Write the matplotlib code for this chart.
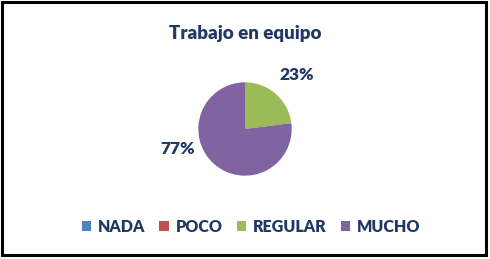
import matplotlib.pyplot as plt
import numpy as np
from matplotlib.patches import Rectangle, Patch

# data
categories = ["NADA", "POCO", "REGULAR", "MUCHO"]
values = [0, 0, 23, 77]
colors = ["#4F81BD", "#C0504D", "#9BBB59", "#8064A2"]
text_color = "#1F3864"

plt.rcParams['font.family'] = ['Lato', 'DejaVu Sans']

fig = plt.figure(figsize=(4.9, 2.59), dpi=100)

# frame around the chart
fig.patches.append(Rectangle((2 / 490, 4 / 259), 484 / 490, 253 / 259,
                             transform=fig.transFigure, fill=False,
                             edgecolor="black", linewidth=2.2))

# title
fig.text(0.5, 1 - 33 / 259, "Trabajo en equipo", ha="center", va="center",
         fontsize=13.5, fontweight="heavy", color=text_color)

# pie
ax = fig.add_axes([(245 - 49) / 490, 1 - (129 + 49) / 259, 98 / 490, 98 / 259])
wedges, _ = ax.pie(values, colors=colors, startangle=90, counterclock=False,
                   wedgeprops=dict(linewidth=0))
ax.set_xlim(-1.05, 1.05)
ax.set_ylim(-1.05, 1.05)
ax.set_aspect("equal")

# percentage labels
total = sum(values)
angles = {2: 46, 3: 197}
dists = {2: 1.6, 3: 1.5}
for i, v in enumerate(values):
    if v == 0:
        continue
    a = np.deg2rad(angles[i])
    ax.text(dists[i] * np.cos(a), dists[i] * np.sin(a), f"{round(100 * v / total)}%",
            ha="center", va="center", fontsize=12.5, fontweight="heavy",
            color=text_color, clip_on=False)

# legend
handles = [Patch(facecolor=c, edgecolor="none") for c in colors]
fig.legend(handles, categories, loc="center", bbox_to_anchor=(251 / 490, 1 - 227 / 259),
           ncol=4, frameon=False, handlelength=0.6, handleheight=0.6,
           handletextpad=0.4, columnspacing=0.9,
           prop=dict(size=11.5, weight="heavy"), labelcolor=text_color)

fig.savefig("out.png", dpi=100)
